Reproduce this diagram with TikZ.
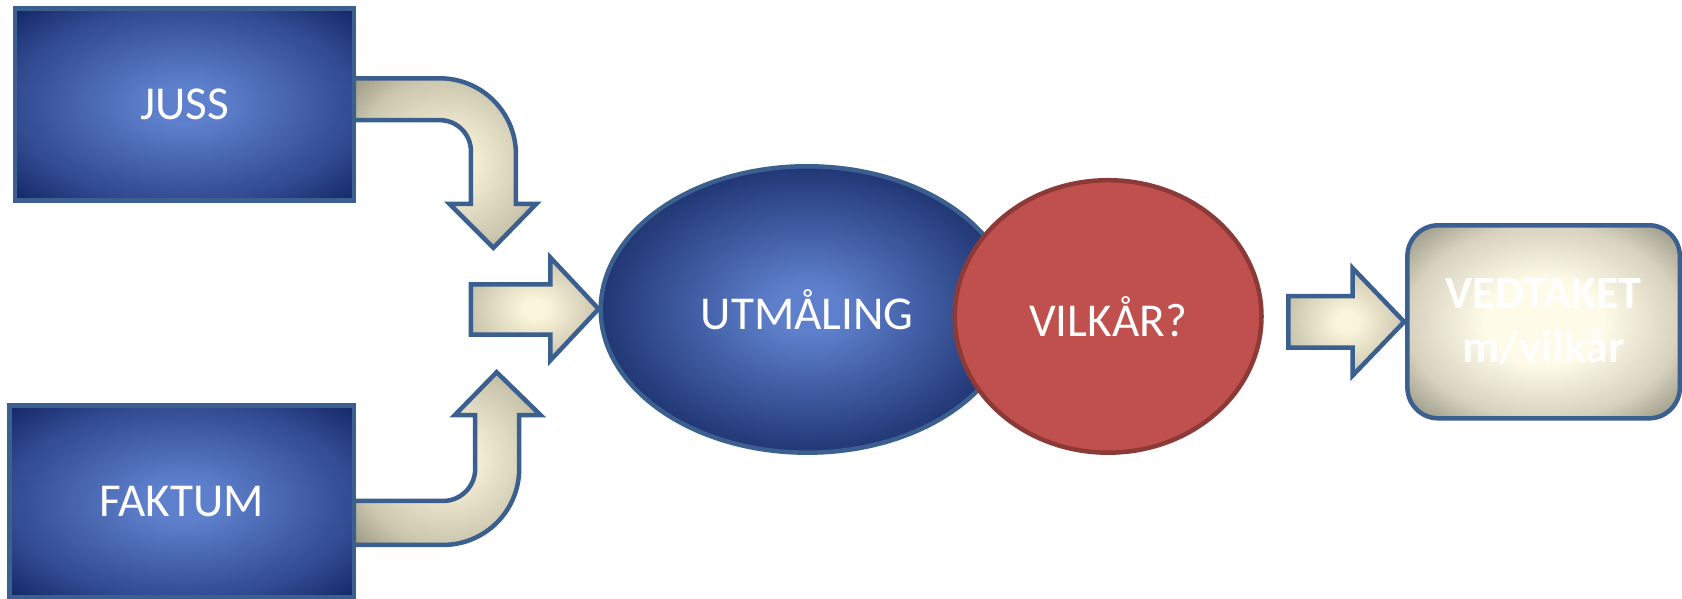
\documentclass[tikz,border=0pt]{standalone}
\usepackage{fontspec}
\setmainfont{Carlito}
\usetikzlibrary{shapes.geometric}
\definecolor{bordblue}{HTML}{3B5F8F}
\definecolor{bcen}{HTML}{5E80CC}
\definecolor{bmid}{HTML}{324B92}
\definecolor{bedge}{HTML}{112563}
\definecolor{ecen}{HTML}{5E80CC}
\definecolor{eedge}{HTML}{213775}
\definecolor{acen}{HTML}{FAF4DA}
\definecolor{amid}{HTML}{CBC6AE}
\definecolor{aedge}{HTML}{99957F}
\definecolor{vcen}{HTML}{FEFBE8}
\definecolor{vmid}{HTML}{D6D2BF}
\definecolor{vedge}{HTML}{8C8877}
\definecolor{redfill}{HTML}{C0504D}
\definecolor{redbord}{HTML}{8C3A37}
\pgfdeclareradialshading{boxshade}{\pgfpoint{0bp}{0bp}}{color(0bp)=(bcen); color(5bp)=(bcen); color(25bp)=(bmid); color(36bp)=(bedge); color(50bp)=(bedge)}
\pgfdeclareradialshading{ellshade}{\pgfpoint{0bp}{0bp}}{color(0bp)=(ecen); color(4bp)=(ecen); color(25bp)=(eedge); color(50bp)=(eedge)}
\pgfdeclareradialshading{arrshade}{\pgfpoint{0bp}{0bp}}{color(0bp)=(acen); color(5bp)=(acen); color(25bp)=(amid); color(36bp)=(aedge); color(50bp)=(aedge)}
\pgfdeclareradialshading{vedshade}{\pgfpoint{0bp}{0bp}}{color(0bp)=(vcen); color(11bp)=(vcen); color(25bp)=(vmid); color(36bp)=(vedge); color(50bp)=(vedge)}
\tikzset{
  bluebox/.style={rectangle, draw=bordblue, line width=4.5pt, shade, shading=boxshade, text=white, font=\fontsize{44}{50}\selectfont, inner sep=0pt},
  arrowsty/.style={draw=bordblue, line width=4.5pt, shade, shading=arrshade},
  blueell/.style={ellipse, draw=bordblue, line width=4.5pt, shade, shading=ellshade, text=white, font=\fontsize{44}{50}\selectfont, inner sep=0pt},
  redell/.style={ellipse, draw=redbord, line width=4.5pt, fill=redfill, text=white, font=\fontsize{44}{50}\selectfont, inner sep=0pt},
  vedbox/.style={rectangle, rounded corners=31pt, draw=bordblue, line width=4.5pt, shade, shading=vedshade, text=white, font=\bfseries\fontsize{43}{50}\selectfont, align=center, inner sep=0pt}
}
\begin{document}
\begin{tikzpicture}[x=1pt,y=-1pt,scale=1.0727,transform shape]
\useasboundingbox (0,0) rectangle (1568,558.4);
% bent arrow from JUSS
\draw[arrowsty] (330,73) -- (410,73) arc[start angle=90,end angle=0,radius=71pt] -- (481,190) -- (500,190) -- (460,231) -- (419,190) -- (439,190) -- (439,141) arc[start angle=0,end angle=90,radius=29pt] -- (330,112) -- cycle;
% bent arrow from FAKTUM
\draw[arrowsty] (330,467) -- (413,467) arc[start angle=-90,end angle=0,radius=30pt] -- (443,387) -- (424,387) -- (463,347) -- (504,387) -- (484,387) -- (484,437) arc[start angle=0,end angle=-90,radius=71pt] -- (330,508) -- cycle;
% middle arrow
\draw[arrowsty] (439,265) -- (513,265) -- (513,240) -- (558,288) -- (513,336) -- (513,312) -- (439,312) -- cycle;
% right arrow
\draw[arrowsty] (1201,276) -- (1261,276) -- (1261,250) -- (1309,300) -- (1261,350) -- (1261,324) -- (1201,324) -- cycle;
\node[bluebox, minimum width=316pt, minimum height=179pt] (juss) at (172,97.5) {JUSS};
\node[bluebox, minimum width=321pt, minimum height=179pt] (faktum) at (169.5,467.5) {FAKTUM};
\node[blueell, minimum width=385pt, minimum height=267pt] (utm) at (752.5,288.5) {UTMÅLING};
\node[redell, minimum width=286pt, minimum height=254pt] (vilk) at (1033,295) {VILKÅR?};
\node[vedbox, minimum width=254pt, minimum height=180pt] (ved) at (1439,300) {VEDTAKET\\m/vilkår};
\end{tikzpicture}
\end{document}
